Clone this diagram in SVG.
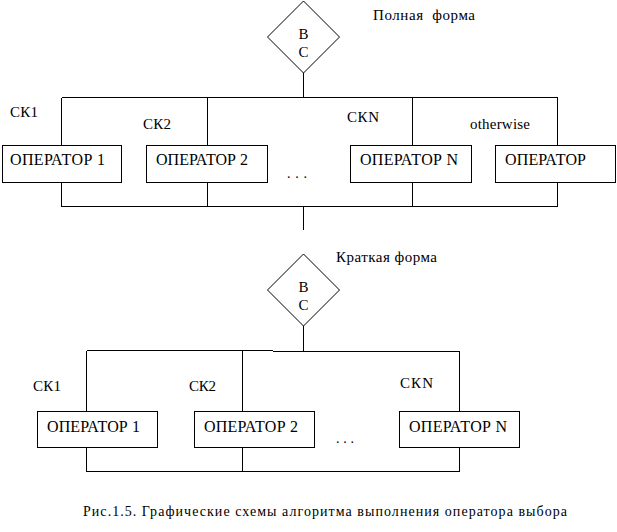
<svg xmlns="http://www.w3.org/2000/svg" width="617" height="532" viewBox="0 0 617 532">
<style>
.ln{stroke:#000;stroke-width:1;fill:none;shape-rendering:crispEdges}
.bx{stroke:#000;stroke-width:1;fill:#fff;shape-rendering:crispEdges}
.dm{stroke:#000;stroke-width:1;fill:#fff}
text{font-family:"Liberation Serif","DejaVu Serif",serif;fill:#000}
.t16{font-size:16px}
.t15{font-size:15px}
.t14{font-size:14px}
.mid{text-anchor:middle}
</style>
<rect width="617" height="532" fill="#fff"/>
<g id="connectors">
<path class="ln" d="M303.5,73 V97.5 M61.5,97.5 H557.5 M61.5,97.5 V145 M207.5,97.5 V145 M412.5,97.5 V145 M557.5,97.5 V145 M61.5,182 V206.5 M207.5,182 V206.5 M412.5,182 V206.5 M557.5,182 V206.5 M61.5,206.5 H557.5 M303.5,206.5 V230"/>
<path class="ln" d="M303.5,326 V351.5 M86.5,350.5 H272.5 M272.5,351.5 H459.5 M86.5,350.5 V411 M242.5,350.5 V411 M459.5,351.5 V411 M86.5,447 V471.5 M242.5,447 V471.5 M459.5,447 V471.5 M86.5,471.5 H459.5"/>
</g>
<g id="title-full"><text class="t15" x="373" y="20" textLength="102" lengthAdjust="spacing" xml:space="preserve">Полная  форма</text></g>
<g id="decision-full">
<polygon class="dm" points="303.5,1 339.5,37 303.5,73 267.5,37"/>
<text class="t15 mid" x="303.5" y="39">В</text>
<text class="t15 mid" x="303.5" y="57">С</text>
</g>
<g id="labels-full">
<text class="t15" x="10" y="117" textLength="28" lengthAdjust="spacing">СК1</text>
<text class="t15" x="143" y="129" textLength="28" lengthAdjust="spacing">СК2</text>
<text class="t15" x="347" y="122" textLength="32" lengthAdjust="spacing">СКN</text>
<text class="t15" x="470" y="129" textLength="60" lengthAdjust="spacing">otherwise</text>
<text class="t14" x="287" y="178" textLength="20" lengthAdjust="spacing">. . .</text>
</g>
<g id="op1-full"><rect class="bx" x="2.5" y="145.5" width="119" height="37"/><text class="t16" x="10" y="165" textLength="95" lengthAdjust="spacing">ОПЕРАТОР 1</text></g>
<g id="op2-full"><rect class="bx" x="146.5" y="145.5" width="121" height="37"/><text class="t16" x="156" y="165" textLength="92" lengthAdjust="spacing">ОПЕРАТОР 2</text></g>
<g id="opn-full"><rect class="bx" x="350.5" y="145.5" width="121" height="37"/><text class="t16" x="360" y="165" textLength="98" lengthAdjust="spacing">ОПЕРАТОР N</text></g>
<g id="op-otherwise"><rect class="bx" x="495.5" y="145.5" width="120" height="37"/><text class="t16" x="505" y="165" textLength="81" lengthAdjust="spacing">ОПЕРАТОР</text></g>

<g id="title-short"><text class="t15" x="336" y="262" textLength="101" lengthAdjust="spacing">Краткая форма</text></g>
<g id="decision-short">
<polygon class="dm" points="303.5,254 339.5,290 303.5,326 267.5,290"/>
<text class="t15 mid" x="303.5" y="292">В</text>
<text class="t15 mid" x="303.5" y="310">С</text>
</g>
<g id="labels-short">
<text class="t15" x="33" y="391" textLength="28" lengthAdjust="spacing">СК1</text>
<text class="t15" x="189" y="391" textLength="27" lengthAdjust="spacing">СК2</text>
<text class="t15" x="400" y="388" textLength="33" lengthAdjust="spacing">СКN</text>
<text class="t14" x="336" y="443" textLength="18" lengthAdjust="spacing">. . .</text>
</g>
<g id="op1-short"><rect class="bx" x="37.5" y="411.5" width="120" height="36"/><text class="t16" x="47" y="432" textLength="93" lengthAdjust="spacing">ОПЕРАТОР 1</text></g>
<g id="op2-short"><rect class="bx" x="194.5" y="411.5" width="120" height="36"/><text class="t16" x="204" y="432" textLength="94" lengthAdjust="spacing">ОПЕРАТОР 2</text></g>
<g id="opn-short"><rect class="bx" x="399.5" y="411.5" width="120" height="36"/><text class="t16" x="409" y="432" textLength="98" lengthAdjust="spacing">ОПЕРАТОР N</text></g>

<g id="caption"><text class="t14" x="83" y="516" textLength="484" lengthAdjust="spacing">Рис.1.5. Графические схемы алгоритма выполнения оператора выбора</text></g>
</svg>
